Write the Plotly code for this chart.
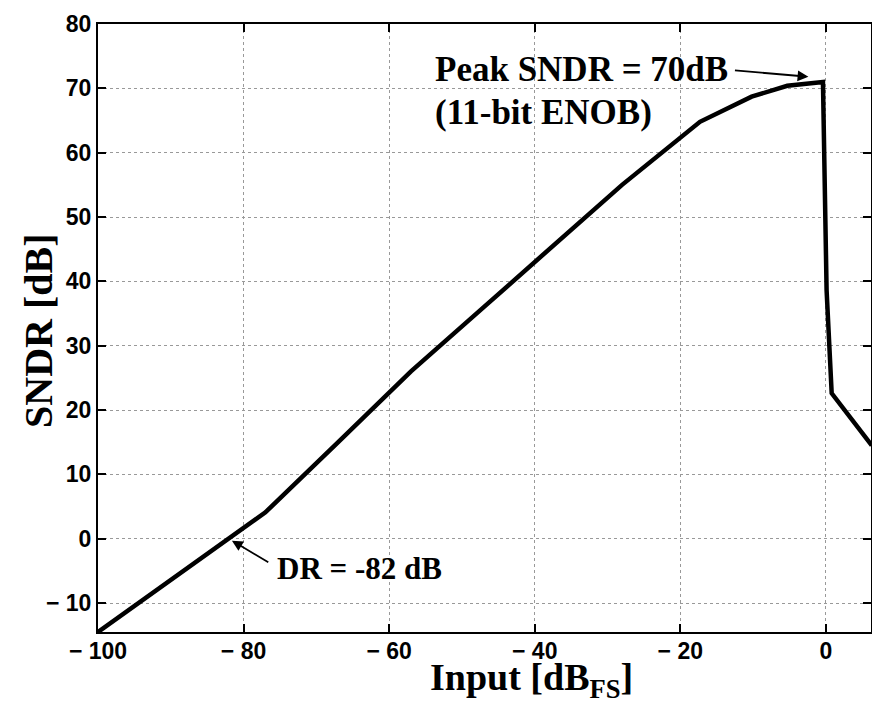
import plotly.graph_objects as go

# Data
input_dbfs = [-100, -82, -77, -67, -57, -47, -37, -28, -17.3, -10.2, -5.3, -0.4, 0.1, 0.8, 6.3]
sndr_db = [-14.5, 0, 4.1, 15, 26, 36, 46, 55, 64.8, 68.7, 70.4, 71.0, 38.6, 22.6, 14.5]

x_ticks = [-100, -80, -60, -40, -20, 0]
x_tick_labels = ["\u2212 100", "\u2212 80", "\u2212 60", "\u2212 40", "\u2212 20", "0"]
y_ticks = [-10, 0, 10, 20, 30, 40, 50, 60, 70, 80]
y_tick_labels = ["\u2212 10", "0", "10", "20", "30", "40", "50", "60", "70", "80"]

peak_point = (-2.4, 71.8)
peak_tail = (-12.7, 72.8)
dr_point = (-81.6, -0.3)
dr_tail = (-76.4, -3.8)

serif = "Liberation Serif, Times New Roman, serif"
sans = "Liberation Sans, Arial, sans-serif"

fig = go.Figure()
fig.add_trace(go.Scatter(x=input_dbfs, y=sndr_db, mode="lines",
                         line=dict(color="black", width=4.5), showlegend=False))

axis_common = dict(
    showline=True, linecolor="black", linewidth=2, mirror="ticks",
    ticks="inside", ticklen=8, tickwidth=2, tickcolor="black",
    showgrid=True, gridcolor="#999999", griddash="dot", gridwidth=1,
    zeroline=False, automargin=False,
    tickfont=dict(family=sans, size=23, color="black", weight="bold"),
)

fig.update_xaxes(range=[-100, 6.2], tickvals=x_ticks, ticktext=x_tick_labels, **axis_common,
                 ticklabelstandoff=-3)
fig.update_yaxes(range=[-14.5, 80], tickvals=y_ticks, ticktext=y_tick_labels, **axis_common,
                 ticklabelstandoff=0)

# axis titles
fig.add_annotation(x=0.5, y=0, xref="paper", yref="paper", text="Input [dB<sub>FS</sub>]",
                   showarrow=False, xanchor="center", yanchor="top", xshift=47, yshift=-22,
                   font=dict(family=serif, size=38, color="black", weight="bold"))
fig.add_annotation(x=0, y=0.5, xref="paper", yref="paper", text="SNDR [dB]",
                   showarrow=False, xanchor="center", yanchor="middle", xshift=-60, yshift=-3,
                   textangle=-90,
                   font=dict(family=serif, size=40, color="black", weight="bold"))

# text annotations
fig.add_annotation(x=-54, y=72.9, xref="x", yref="y", text="Peak SNDR = 70dB",
                   showarrow=False, xanchor="left", yanchor="middle",
                   font=dict(family=serif, size=35, color="black", weight="bold"))
fig.add_annotation(x=-54, y=66.2, xref="x", yref="y", text="(11-bit ENOB)",
                   showarrow=False, xanchor="left", yanchor="middle",
                   font=dict(family=serif, size=35, color="black", weight="bold"))
fig.add_annotation(x=-75.7, y=-4.6, xref="x", yref="y", text="DR = -82 dB",
                   showarrow=False, xanchor="left", yanchor="middle",
                   font=dict(family=serif, size=31, color="black", weight="bold"))

# arrows
fig.add_annotation(x=peak_point[0], y=peak_point[1], ax=peak_tail[0], ay=peak_tail[1],
                   xref="x", yref="y", axref="x", ayref="y", text="",
                   showarrow=True, arrowhead=2, arrowsize=1.2, arrowwidth=1.8, arrowcolor="black")
fig.add_annotation(x=dr_point[0], y=dr_point[1], ax=dr_tail[0], ay=dr_tail[1],
                   xref="x", yref="y", axref="x", ayref="y", text="",
                   showarrow=True, arrowhead=2, arrowsize=1.2, arrowwidth=1.8, arrowcolor="black")

fig.update_layout(width=872, height=704,
                  margin=dict(l=98, r=1, t=24, b=72),
                  plot_bgcolor="white", paper_bgcolor="white")

fig.write_html("out.html", config={"displayModeBar": False},
               post_script="document.body.style.margin='0';document.body.style.overflow='hidden';")
